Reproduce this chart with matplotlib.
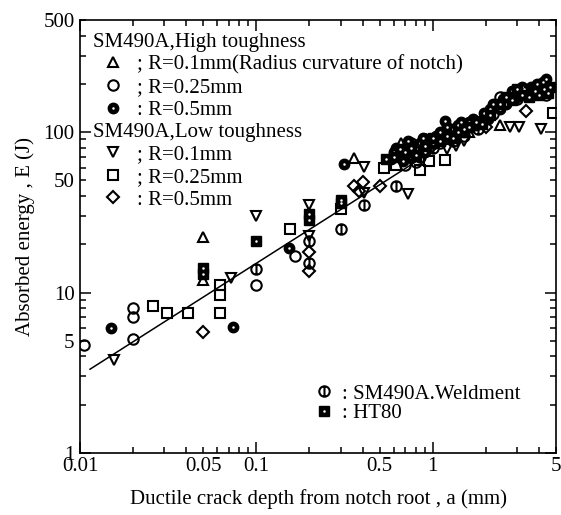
import numpy as np
import matplotlib
matplotlib.use("Agg")
import matplotlib.pyplot as plt
from matplotlib.path import Path
from matplotlib.lines import Line2D

plt.rcParams['font.family'] = ['Liberation Serif', 'DejaVu Serif']
fs = 15

# ---- data: crack depth a (mm), absorbed energy E (J) ----
# SM490A high toughness
hi_r01_a = [0.05, 0.05, 0.36, 0.66, 2.4, 1.6, 4.4]
hi_r01_E = [22.2, 12.0, 69, 86, 110, 100, 180]

hi_r025_a = [0.0105, 0.02, 0.02, 0.02, 0.1, 0.165, 0.7, 0.8, 0.9, 1.0, 1.1, 1.5, 2.4, 4.4]
hi_r025_E = [4.7, 5.1, 7.0, 8.0, 11.1, 17, 62, 65, 90, 88, 85, 95, 165, 170]

hi_r05_a = [0.015, 0.074, 0.153, 0.315, 1.17,
            0.58, 0.6, 0.65, 0.7, 0.75, 0.8, 0.85, 0.9, 0.95, 1.05, 1.1, 1.25, 1.3,
            1.4, 1.5, 1.6, 1.7, 1.85, 2.0, 2.1, 2.2, 2.3, 2.5, 2.7, 2.9, 3.1, 3.3,
            3.6, 3.9, 4.2, 4.5,
            0.62, 0.68, 0.72, 0.78, 0.88, 0.92, 1.0, 1.15, 1.2, 1.35, 1.45, 1.55,
            1.75, 1.95, 2.05, 2.4, 2.6, 2.8, 3.0, 3.4, 3.7, 4.0, 4.4, 3.2]
hi_r05_E = [6.0, 6.1, 19, 63, 117,
            68, 75, 72, 80, 70, 78, 85, 75, 88, 95, 100, 98, 105,
            110, 100, 115, 120, 118, 125, 140, 150, 145, 160, 165, 170, 175, 185,
            190, 200, 205, 195,
            80, 66, 88, 82, 92, 80, 85, 92, 108, 96, 115, 108,
            110, 132, 120, 140, 150, 180, 165, 170, 180, 185, 215, 190]

# SM490A low toughness
lo_r01_a = [0.0155, 0.072, 0.1, 0.2, 0.2, 0.41, 0.41, 0.72, 2.75, 3.1, 4.1, 1.2, 1.35, 1.5]
lo_r01_E = [3.8, 12.4, 30, 35, 22.5, 61, 42, 41, 108, 108, 104, 78, 82, 88]

lo_r025_a = [0.026, 0.031, 0.041, 0.062, 0.062, 0.062, 0.155, 0.3, 0.53, 0.85,
             1.17, 4.8, 0.62, 0.95]
lo_r025_E = [8.3, 7.5, 7.5, 11.2, 9.7, 7.5, 25, 33, 60, 58,
             67, 132, 62, 66]

lo_r05_a = [0.05, 0.2, 0.2, 0.36, 0.4, 0.38, 0.5, 2.0, 3.4]
lo_r05_E = [5.7, 18, 13.6, 46, 49, 43, 46, 108, 135]

# SM490A weldment
weld_a = [0.1, 0.2, 0.2, 0.3, 0.41, 0.62, 0.75, 0.85, 1.0, 1.3, 1.8, 2.2, 2.6, 3.0, 4.0]
weld_E = [14, 15.3, 21, 25, 35, 46, 85, 70, 80, 88, 105, 130, 155, 160, 190]

# HT80
ht80_a = [0.05, 0.05, 0.1, 0.2, 0.2, 0.3, 0.3, 0.54,
          0.6, 0.7, 0.8, 0.9, 1.0, 1.2, 1.4, 1.6, 1.9, 2.4, 2.8, 3.2, 3.5, 3.8, 4.3, 4.5,
          0.65, 0.75, 1.1, 1.3, 1.5, 1.75, 2.1, 2.6, 3.0, 4.0, 4.6]
ht80_E = [14.3, 13.0, 21, 31, 28.5, 38, 36, 68,
          70, 75, 72, 82, 92, 95, 100, 108, 112, 150, 158, 170, 165, 180, 185, 175,
          78, 80, 88, 92, 104, 115, 128, 165, 185, 170, 190]

# regression line end points
fit_a = [0.0114, 4.6]
fit_E = [3.33, 222]

# ---- figure ----
fig = plt.figure(figsize=(5.61, 5.15), dpi=100)
ax = fig.add_axes([80/561, 62/515, 476/561, 433/515])
ax.set_xscale('log')
ax.set_yscale('log')

ms = 7.5
mew = 1.5
dot = 1.8
open_kw = dict(linestyle='none', markersize=ms, markerfacecolor='none',
               markeredgecolor='black', markeredgewidth=mew)
dot_kw = dict(linestyle='none', marker='o', color='white', markersize=dot,
              markeredgewidth=0)

weld_path = Path.make_compound_path(
    Path.unit_circle(),
    Path([(0, -1), (0, 1)], [Path.MOVETO, Path.LINETO]))

ax.plot(fit_a, fit_E, color='black', lw=1.1, zorder=1)

ax.plot(hi_r01_a, hi_r01_E, marker='^', **open_kw)
ax.plot(hi_r025_a, hi_r025_E, marker='o', **open_kw)
ax.plot(lo_r01_a, lo_r01_E, marker='v', **open_kw)
ax.plot(lo_r025_a, lo_r025_E, marker='s', **open_kw)
ax.plot(lo_r05_a, lo_r05_E, marker='D', **dict(open_kw, markersize=ms * 0.85))
ax.plot(weld_a, weld_E, marker=weld_path, **open_kw)

ax.plot(hi_r05_a, hi_r05_E, 'o', color='black', markersize=ms)
ax.plot(hi_r05_a, hi_r05_E, **dot_kw)
ax.plot(ht80_a, ht80_E, 's', color='black', markersize=ms * 0.9)
ax.plot(ht80_a, ht80_E, **dot_kw)

ax.set_xlim(0.01, 5)
ax.set_ylim(1, 500)

# ticks
ax.set_xticks([0.01, 0.1, 1])
ax.set_xticklabels(['0.01', '0.1', '1'])
xminor = [0.02, 0.03, 0.04, 0.05, 0.06, 0.07, 0.08, 0.09,
          0.2, 0.3, 0.4, 0.5, 0.6, 0.7, 0.8, 0.9, 2, 3, 4, 5]
ax.set_xticks(xminor, minor=True)
ax.set_xticklabels(['0.05' if v == 0.05 else '0.5' if v == 0.5 else '5' if v == 5 else ''
                    for v in xminor], minor=True)
ax.set_yticks([1, 10, 100])
ax.set_yticklabels(['1', '10', '100'])
yminor = [2, 3, 4, 5, 6, 7, 8, 9, 20, 30, 40, 50, 60, 70, 80, 90, 200, 300, 400, 500]
ax.set_yticks(yminor, minor=True)
ax.set_yticklabels([str(v) if v in (5, 50, 500) else '' for v in yminor], minor=True)

ax.tick_params(which='both', direction='in', top=True, right=True,
               labelsize=fs, width=1.1)
ax.tick_params(which='major', length=8)
ax.tick_params(which='minor', length=4)
ax.tick_params(axis='x', which='both', pad=3)
ax.tick_params(axis='y', which='both', pad=4)
for s in ax.spines.values():
    s.set_linewidth(1.2)

ax.set_xlabel('Ductile crack depth from notch root , a (mm)', fontsize=fs, labelpad=9)
ax.set_ylabel('Absorbed energy , E (J)', fontsize=fs, labelpad=6)

# ---- legends ----
def h_open(m, size=ms):
    return Line2D([], [], marker=m, linestyle='none', markersize=size,
                  markerfacecolor='none', markeredgecolor='black', markeredgewidth=mew)

h_dot_circle = (Line2D([], [], marker='o', linestyle='none', color='black', markersize=ms),
                Line2D([], [], **dot_kw))
h_dot_square = (Line2D([], [], marker='s', linestyle='none', color='black', markersize=ms * 0.9),
                Line2D([], [], **dot_kw))

leg_kw = dict(loc='upper left', frameon=False, fontsize=fs, title_fontsize=fs,
              borderpad=0, borderaxespad=0, handlelength=1.92, handletextpad=0.2,
              labelspacing=0.15, alignment='left')

leg1 = ax.legend([h_open('^'), h_open('o'), h_dot_circle],
                 ['; R=0.1mm(Radius curvature of notch)', '; R=0.25mm', ': R=0.5mm'],
                 title='SM490A,High toughness', bbox_to_anchor=(0.027, 0.970), **leg_kw)
ax.add_artist(leg1)
leg2 = ax.legend([h_open('v'), h_open('s'), h_open('D', ms * 0.85)],
                 ['; R=0.1mm', '; R=0.25mm', ': R=0.5mm'],
                 title='SM490A,Low toughness', bbox_to_anchor=(0.027, 0.763), **leg_kw)
ax.add_artist(leg2)
ax.legend([h_open(weld_path), h_dot_square],
          [': SM490A.Weldment', ': HT80'],
          loc='upper left', frameon=False, fontsize=fs, borderpad=0, borderaxespad=0,
          handlelength=1.4, handletextpad=0.16, labelspacing=0.0,
          bbox_to_anchor=(0.483, 0.159))

fig.savefig('out.png', dpi=100)
